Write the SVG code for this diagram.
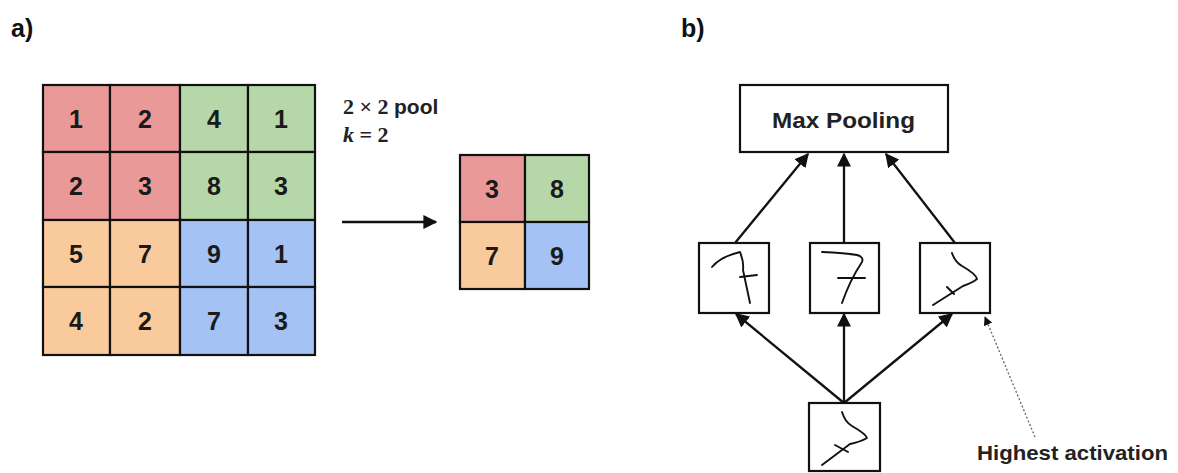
<svg xmlns="http://www.w3.org/2000/svg" width="1178" height="473" viewBox="0 0 1178 473">
  <style>
    .lbl { font-family: "Liberation Sans", Arial, sans-serif; font-weight: bold; font-size: 25px; fill: #111; }
    .num { font-family: "Liberation Sans", Arial, sans-serif; font-weight: bold; font-size: 25px; fill: #1a1a1a; text-anchor: middle; }
    .cell { stroke: #111; stroke-width: 2.2; }
    .red { fill: #ea9999; }
    .green { fill: #b6d7a8; }
    .orange { fill: #f9cb9c; }
    .blue { fill: #a4c2f4; }
    .box { fill: #fff; stroke: #111; stroke-width: 2.2; }
    .ink { fill: none; stroke: #111; stroke-width: 1.9; stroke-linecap: round; stroke-linejoin: round; }
    .edge { stroke: #111; stroke-width: 2.3; fill: none; marker-end: url(#head); }
    .title { font-family: "Liberation Sans", Arial, sans-serif; font-weight: bold; font-size: 22px; fill: #222; }
    .param { font-family: "Liberation Serif", "Times New Roman", serif; font-weight: bold; font-size: 22px; fill: #222; }
  </style>
  <defs>
    <marker id="head" viewBox="0 0 10 10" refX="9" refY="5" markerWidth="14" markerHeight="14" orient="auto" markerUnits="userSpaceOnUse">
      <path d="M0,0 L10,5 L0,10 z" fill="#111"/>
    </marker>
    <marker id="dotHead" viewBox="0 0 10 10" refX="9" refY="5" markerWidth="9" markerHeight="9" orient="auto" markerUnits="userSpaceOnUse">
      <path d="M0,0 L10,5 L0,10 z" fill="#111"/>
    </marker>
  </defs>

  <rect width="1178" height="473" fill="#fff"/>

  <!-- panel labels -->
  <text class="lbl" x="11" y="37">a)</text>
  <text class="lbl" x="681" y="37">b)</text>

  <!-- 4x4 input feature map -->
  <g id="input-grid">
    <rect class="cell red" x="43" y="85" width="67" height="67"/>
    <rect class="cell red" x="110" y="85" width="70" height="67"/>
    <rect class="cell green" x="180" y="85" width="68" height="67"/>
    <rect class="cell green" x="248" y="85" width="67" height="67"/>
    <rect class="cell red" x="43" y="152" width="67" height="68"/>
    <rect class="cell red" x="110" y="152" width="70" height="68"/>
    <rect class="cell green" x="180" y="152" width="68" height="68"/>
    <rect class="cell green" x="248" y="152" width="67" height="68"/>
    <rect class="cell orange" x="43" y="220" width="67" height="67"/>
    <rect class="cell orange" x="110" y="220" width="70" height="67"/>
    <rect class="cell blue" x="180" y="220" width="68" height="67"/>
    <rect class="cell blue" x="248" y="220" width="67" height="67"/>
    <rect class="cell orange" x="43" y="287" width="67" height="68"/>
    <rect class="cell orange" x="110" y="287" width="70" height="68"/>
    <rect class="cell blue" x="180" y="287" width="68" height="68"/>
    <rect class="cell blue" x="248" y="287" width="67" height="68"/>
    <text class="num" x="76" y="128">1</text>
    <text class="num" x="145" y="128">2</text>
    <text class="num" x="214" y="128">4</text>
    <text class="num" x="281" y="128">1</text>
    <text class="num" x="76" y="195">2</text>
    <text class="num" x="145" y="195">3</text>
    <text class="num" x="214" y="195">8</text>
    <text class="num" x="281" y="195">3</text>
    <text class="num" x="76" y="263">5</text>
    <text class="num" x="145" y="263">7</text>
    <text class="num" x="214" y="263">9</text>
    <text class="num" x="281" y="263">1</text>
    <text class="num" x="76" y="330">4</text>
    <text class="num" x="145" y="330">2</text>
    <text class="num" x="214" y="330">7</text>
    <text class="num" x="281" y="330">3</text>
  </g>

  <!-- pooling parameters -->
  <g id="pool-label">
    <text class="param" x="343" y="114">2 × 2 <tspan style="font-family:'Liberation Sans',Arial,sans-serif;font-size:21px">pool</tspan></text>
    <text class="param" x="343" y="142"><tspan font-style="italic">k</tspan> = 2</text>
  </g>

  <!-- 2x2 pooled output -->
  <g id="output-grid">
    <rect class="cell red" x="460" y="155" width="65" height="67"/>
    <rect class="cell green" x="525" y="155" width="64" height="67"/>
    <rect class="cell orange" x="460" y="222" width="65" height="67"/>
    <rect class="cell blue" x="525" y="222" width="64" height="67"/>
    <text class="num" x="492" y="198">3</text>
    <text class="num" x="557" y="198">8</text>
    <text class="num" x="492" y="265">7</text>
    <text class="num" x="557" y="265">9</text>
  </g>

  <!-- panel b nodes -->
  <g id="max-pooling">
    <rect class="box" x="740" y="85" width="208" height="67"/>
    <text class="title" x="772" y="128" textLength="143" lengthAdjust="spacingAndGlyphs">Max Pooling</text>
  </g>
  <g id="feature-left">
    <rect class="box" x="699" y="243" width="70" height="70"/>
    <path class="ink" d="M712,267 Q720,257 740,252 Q744,262 743,270 L750,303 M740,277 L757,275"/>
  </g>
  <g id="feature-mid">
    <rect class="box" x="810" y="243" width="69" height="70"/>
    <path class="ink" d="M822,252 Q845,253 857,255 Q864,257 862,262 Q850,280 842,303 M838,278 L865,278"/>
  </g>
  <g id="feature-right">
    <rect class="box" x="920" y="243" width="70" height="70"/>
    <path class="ink" d="M952,253 Q955,262 962,266 Q976,274 977,279 Q972,283 963,286 L933,305 M947,287 L954,294"/>
  </g>
  <g id="input-digit">
    <rect class="box" x="809" y="403" width="71" height="68"/>
    <path class="ink" d="M842,412 Q845,422 852,426 Q866,434 867,438 Q860,442 850,444 L822,465 M835,445 L848,452"/>
  </g>
  <g id="note">
    <text class="title" x="977" y="460" textLength="191" lengthAdjust="spacingAndGlyphs" style="font-size:21px">Highest activation</text>
  </g>

  <!-- connectors -->
  <g id="connectors">
    <line class="edge" x1="342" y1="222" x2="436" y2="222"/>
    <line class="edge" x1="735" y1="243" x2="808" y2="154"/>
    <line class="edge" x1="844" y1="243" x2="844" y2="154"/>
    <line class="edge" x1="955" y1="243" x2="886" y2="154"/>
    <line class="edge" x1="844" y1="403" x2="736" y2="314"/>
    <line class="edge" x1="844" y1="403" x2="844" y2="314"/>
    <line class="edge" x1="844" y1="403" x2="952" y2="314"/>
    <line x1="1035" y1="437" x2="985" y2="317" stroke="#666" stroke-width="1.3" stroke-dasharray="2,2" marker-end="url(#dotHead)"/>
  </g>
</svg>
